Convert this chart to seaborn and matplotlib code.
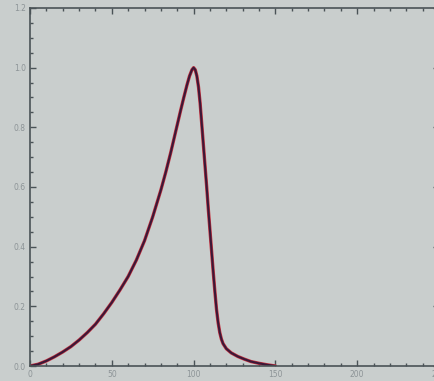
import matplotlib
matplotlib.use("Agg")
import matplotlib.pyplot as plt
from matplotlib.ticker import MultipleLocator
import seaborn as sns
import pandas as pd

# Normalised pulse profile: slow rise to the peak at 100, steep fall, long tail
x_vals = [0, 5, 10, 15, 20, 25, 30, 35, 40, 45, 50, 55, 60, 65, 70, 75, 80, 83,
          86, 89, 92, 94, 96, 97.5, 99, 100, 101, 102, 103, 104, 105, 106, 107,
          108, 109, 110, 111, 112, 113, 114, 115, 116, 117, 118, 120, 123, 127,
          131, 135, 140, 145, 150]
y_vals = [0.0, 0.006, 0.017, 0.031, 0.047, 0.065, 0.087, 0.112, 0.14, 0.175,
          0.213, 0.255, 0.30, 0.355, 0.42, 0.50, 0.59, 0.65, 0.715, 0.785,
          0.855, 0.90, 0.943, 0.972, 0.993, 1.0, 0.993, 0.972, 0.935, 0.88,
          0.81, 0.74, 0.67, 0.60, 0.525, 0.455, 0.385, 0.315, 0.25, 0.19,
          0.145, 0.112, 0.09, 0.075, 0.058, 0.044, 0.032, 0.023, 0.015, 0.009,
          0.004, 0.0]

x_ticks = [0, 50, 100, 150, 200, 250]
x_tick_labels = ["0", "50", "100", "150", "200", "250"]
y_ticks = [0.0, 0.2, 0.4, 0.6, 0.8, 1.0, 1.2]
y_tick_labels = ["0.0", "0.2", "0.4", "0.6", "0.8", "1.0", "1.2"]

df = pd.DataFrame({"x": x_vals, "y": y_vals})

bg = "#c9cecd"
axis_col = "#4a5357"
label_col = "#8d9497"

sns.set_style("ticks")
plt.rcParams["font.family"] = ["DejaVu Sans"]

fig = plt.figure(figsize=(4.35, 3.81), dpi=100, facecolor=bg)
ax = fig.add_axes([30 / 435, 15 / 381, 409 / 435, 358 / 381])
ax.set_facecolor(bg)

sns.lineplot(data=df, x="x", y="y", ax=ax, color="#c4303e", linewidth=2.4,
             sort=False, estimator=None)
sns.lineplot(data=df, x="x", y="y", ax=ax, color="#3b1838", linewidth=1.5,
             sort=False, estimator=None)

ax.set_xlim(0, 250)
ax.set_ylim(0, 1.2)
ax.set_xticks(x_ticks)
ax.set_xticklabels(x_tick_labels)
ax.set_yticks(y_ticks)
ax.set_yticklabels(y_tick_labels)
ax.xaxis.set_minor_locator(MultipleLocator(10))
ax.yaxis.set_minor_locator(MultipleLocator(0.05))

ax.tick_params(which="both", direction="in", top=True, right=True,
               color=axis_col, width=1.0)
ax.tick_params(which="major", length=4.0, labelsize=5.5, labelcolor=label_col,
               pad=3)
ax.tick_params(which="minor", length=2.2)

for side in ["left", "right", "top", "bottom"]:
    ax.spines[side].set_visible(True)
    ax.spines[side].set_color(axis_col)
    ax.spines[side].set_linewidth(1.2)

ax.set_xlabel("")
ax.set_ylabel("")

fig.savefig("out.png", dpi=100, facecolor=bg)
